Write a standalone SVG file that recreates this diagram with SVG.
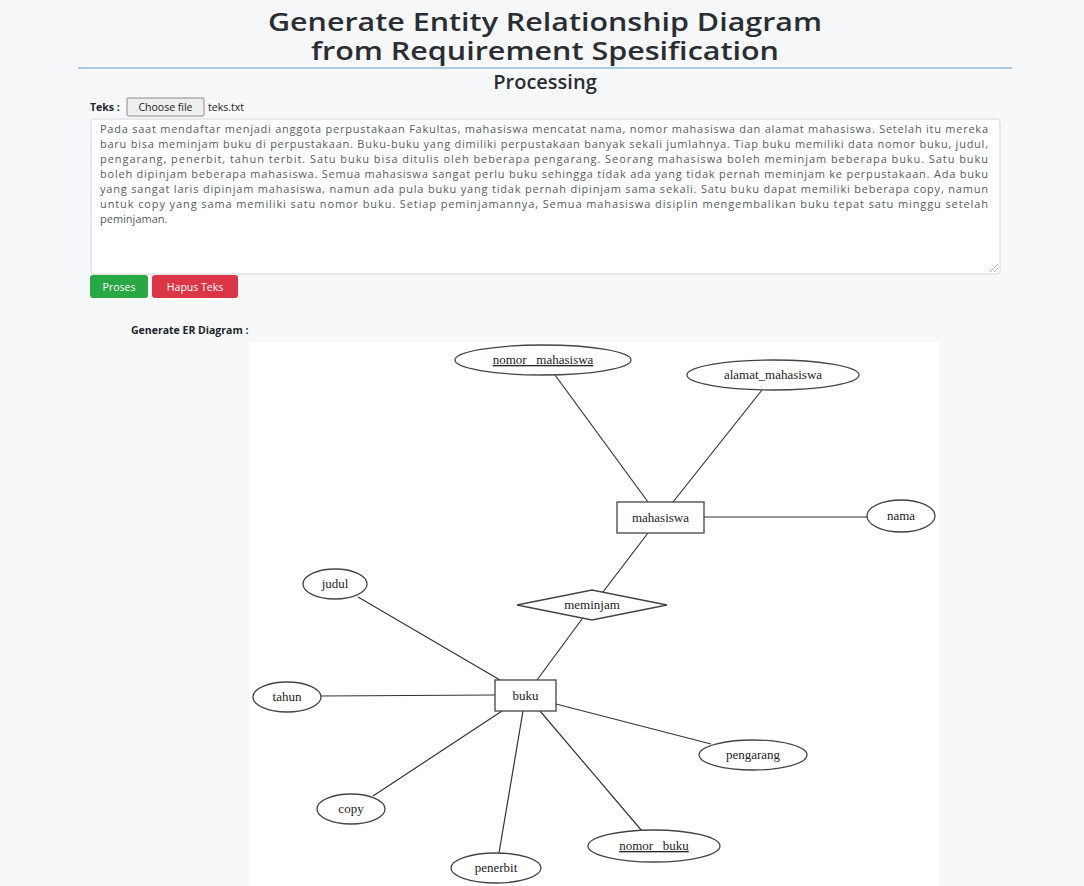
<svg xmlns="http://www.w3.org/2000/svg" width="1084" height="886" viewBox="0 0 1084 886">
<style>
.ui{font-family:"Open Sans","Liberation Sans",sans-serif}
.title{font-size:25px;fill:#2a2e33;text-anchor:middle;font-weight:600}
.para{font-size:11px;fill:#555b61}
.er{font-family:"Liberation Serif","DejaVu Serif",serif;font-size:13px;fill:#222;text-anchor:middle}
.shape{fill:#fff;stroke:#444;stroke-width:1.3}
.conn line{stroke:#333;stroke-width:1.2}
</style>
<rect width="1084" height="886" fill="#f7f8fa"/>
<text class="ui title" x="545" y="31" textLength="554" lengthAdjust="spacingAndGlyphs">Generate Entity Relationship Diagram</text>
<text class="ui title" x="545" y="60" textLength="468" lengthAdjust="spacingAndGlyphs">from Requirement Spesification</text>
<line x1="78" y1="68" x2="1012" y2="68" stroke="#8cc0cf" stroke-width="1.3"/>
<text class="ui" x="545" y="89" font-size="20" font-weight="600" fill="#2a2e33" text-anchor="middle">Processing</text>
<text class="ui" x="90" y="111" font-size="10.5" font-weight="bold" fill="#212529">Teks :</text>
<rect x="127" y="98" width="77" height="18" rx="2" fill="#efefef" stroke="#8a8a8a"/>
<text class="ui" x="165.5" y="111" font-size="10.5" fill="#222" text-anchor="middle">Choose file</text>
<text class="ui" x="208" y="111" font-size="10.5" fill="#222">teks.txt</text>
<rect x="91" y="119" width="909" height="155" rx="3" fill="#fff" stroke="#d4d8dc"/>
<path d="M990 272 L998 264 M994 272 L998 268" stroke="#999" stroke-width="0.8"/>
<g class="ui para">
<text x="100" y="133" textLength="888" lengthAdjust="spacing">Pada saat mendaftar menjadi anggota perpustakaan Fakultas, mahasiswa mencatat nama, nomor mahasiswa dan alamat mahasiswa. Setelah itu mereka</text>
<text x="100" y="148" textLength="888" lengthAdjust="spacing">baru bisa meminjam buku di perpustakaan. Buku-buku yang dimiliki perpustakaan banyak sekali jumlahnya. Tiap buku memiliki data nomor buku, judul,</text>
<text x="100" y="163" textLength="888" lengthAdjust="spacing">pengarang, penerbit, tahun terbit. Satu buku bisa ditulis oleh beberapa pengarang. Seorang mahasiswa boleh meminjam beberapa buku. Satu buku</text>
<text x="100" y="178" textLength="888" lengthAdjust="spacing">boleh dipinjam beberapa mahasiswa. Semua mahasiswa sangat perlu buku sehingga tidak ada yang tidak pernah meminjam ke perpustakaan. Ada buku</text>
<text x="100" y="193" textLength="888" lengthAdjust="spacing">yang sangat laris dipinjam mahasiswa, namun ada pula buku yang tidak pernah dipinjam sama sekali. Satu buku dapat memiliki beberapa copy, namun</text>
<text x="100" y="208" textLength="888" lengthAdjust="spacing">untuk copy yang sama memiliki satu nomor buku. Setiap peminjamannya, Semua mahasiswa disiplin mengembalikan buku tepat satu minggu setelah</text>
<text x="100" y="223">peminjaman.</text>
</g>
<rect x="90" y="275" width="58" height="23" rx="3" fill="#28a745"/>
<text class="ui" x="119" y="290.5" font-size="10.5" fill="#fff" text-anchor="middle">Proses</text>
<rect x="152" y="275" width="86" height="23" rx="3" fill="#dc3545"/>
<text class="ui" x="195" y="290.5" font-size="10.5" fill="#fff" text-anchor="middle">Hapus Teks</text>
<text class="ui" x="131" y="334" font-size="10.5" font-weight="bold" fill="#212529">Generate ER Diagram :</text>
<rect x="249" y="342" width="690" height="544" fill="#fff"/>
<g id="connectors" class="conn">
<line x1="555" y1="375" x2="648" y2="502"/>
<line x1="762" y1="390" x2="673" y2="502"/>
<line x1="704" y1="517" x2="867" y2="517"/>
<line x1="648" y1="533" x2="603" y2="592"/>
<line x1="582" y1="619" x2="537" y2="680"/>
<line x1="358" y1="597" x2="500" y2="680"/>
<line x1="321" y1="696" x2="495" y2="695"/>
<line x1="556" y1="704" x2="711" y2="744"/>
<line x1="502" y1="711" x2="373" y2="796"/>
<line x1="523" y1="711" x2="499" y2="853"/>
<line x1="540" y1="711" x2="642" y2="831"/>
</g>
<g id="nomor_mahasiswa"><ellipse class="shape" cx="543" cy="360" rx="88" ry="15"/><text class="er" x="543" y="364" text-decoration="underline">nomor_ mahasiswa</text></g>
<g id="alamat_mahasiswa"><ellipse class="shape" cx="773" cy="375" rx="86" ry="15"/><text class="er" x="773" y="379">alamat_mahasiswa</text></g>
<g id="mahasiswa"><rect class="shape" x="617" y="502" width="87" height="31"/><text class="er" x="660.5" y="521.5">mahasiswa</text></g>
<g id="nama"><ellipse class="shape" cx="901" cy="516" rx="34" ry="16"/><text class="er" x="901" y="520">nama</text></g>
<g id="meminjam"><polygon class="shape" points="517,605 592,590 667,605 592,620"/><text class="er" x="592" y="609">meminjam</text></g>
<g id="judul"><ellipse class="shape" cx="335" cy="584" rx="32" ry="15"/><text class="er" x="335" y="588">judul</text></g>
<g id="buku"><rect class="shape" x="495" y="680" width="61" height="31"/><text class="er" x="525.5" y="699.5">buku</text></g>
<g id="tahun"><ellipse class="shape" cx="287" cy="697" rx="34" ry="15"/><text class="er" x="287" y="701">tahun</text></g>
<g id="pengarang"><ellipse class="shape" cx="753" cy="755" rx="54" ry="15"/><text class="er" x="753" y="759">pengarang</text></g>
<g id="copy"><ellipse class="shape" cx="351" cy="809" rx="34" ry="15"/><text class="er" x="351" y="813">copy</text></g>
<g id="penerbit"><ellipse class="shape" cx="496" cy="868" rx="45" ry="15"/><text class="er" x="496" y="872">penerbit</text></g>
<g id="nomor_buku"><ellipse class="shape" cx="654" cy="846" rx="66" ry="16"/><text class="er" x="654" y="850" text-decoration="underline">nomor_ buku</text></g>
</svg>
